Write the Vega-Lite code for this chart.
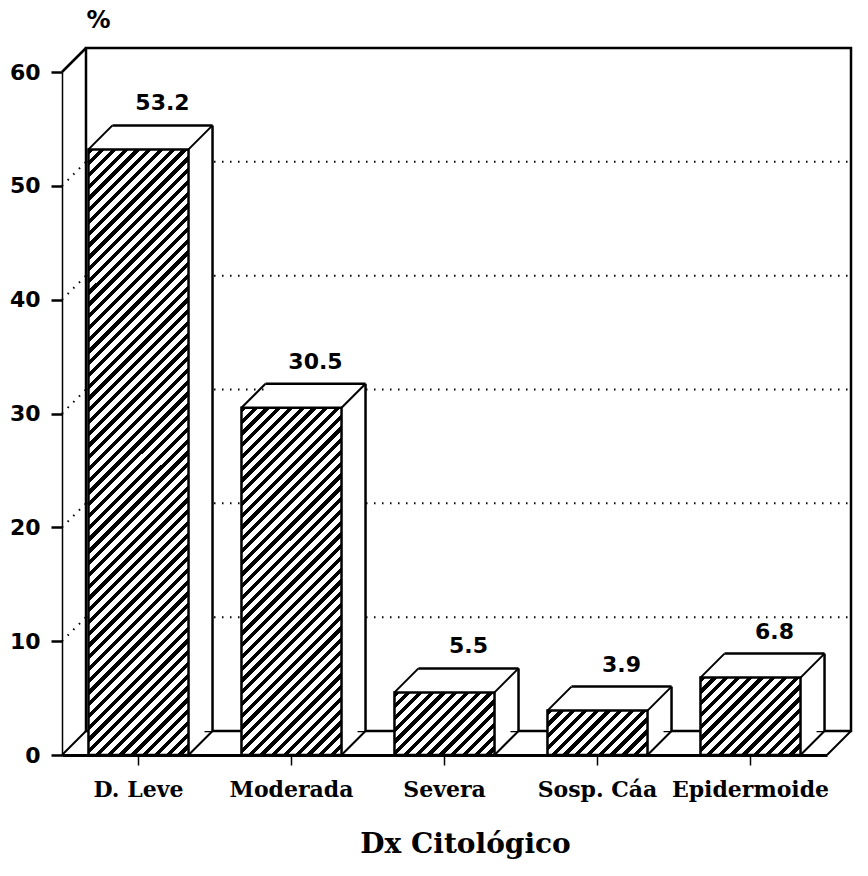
{
"$schema":"https://vega.github.io/schema/vega-lite/v6.json",
"width":765,"height":683,
"autosize":{"type":"none"},
"padding":{"left":62,"top":72,"right":41,"bottom":121},
"config":{"view":{"stroke":null},"font":"DejaVu Sans"},
"params":[{"name":"hatch","value":[
{"offset":0,"color":"#000"},{"offset":0.0075,"color":"#000"},{"offset":0.0075,"color":"#fff"},{"offset":0.0167,"color":"#fff"},
{"offset":0.0167,"color":"#000"},{"offset":0.0242,"color":"#000"},{"offset":0.0242,"color":"#fff"},{"offset":0.0333,"color":"#fff"},
{"offset":0.0333,"color":"#000"},{"offset":0.0408,"color":"#000"},{"offset":0.0408,"color":"#fff"},{"offset":0.05,"color":"#fff"},
{"offset":0.05,"color":"#000"},{"offset":0.0575,"color":"#000"},{"offset":0.0575,"color":"#fff"},{"offset":0.0667,"color":"#fff"},
{"offset":0.0667,"color":"#000"},{"offset":0.0742,"color":"#000"},{"offset":0.0742,"color":"#fff"},{"offset":0.0833,"color":"#fff"},
{"offset":0.0833,"color":"#000"},{"offset":0.0908,"color":"#000"},{"offset":0.0908,"color":"#fff"},{"offset":0.1,"color":"#fff"},
{"offset":0.1,"color":"#000"},{"offset":0.1075,"color":"#000"},{"offset":0.1075,"color":"#fff"},{"offset":0.1167,"color":"#fff"},
{"offset":0.1167,"color":"#000"},{"offset":0.1242,"color":"#000"},{"offset":0.1242,"color":"#fff"},{"offset":0.1333,"color":"#fff"},
{"offset":0.1333,"color":"#000"},{"offset":0.1408,"color":"#000"},{"offset":0.1408,"color":"#fff"},{"offset":0.15,"color":"#fff"},
{"offset":0.15,"color":"#000"},{"offset":0.1575,"color":"#000"},{"offset":0.1575,"color":"#fff"},{"offset":0.1667,"color":"#fff"},
{"offset":0.1667,"color":"#000"},{"offset":0.1742,"color":"#000"},{"offset":0.1742,"color":"#fff"},{"offset":0.1833,"color":"#fff"},
{"offset":0.1833,"color":"#000"},{"offset":0.1908,"color":"#000"},{"offset":0.1908,"color":"#fff"},{"offset":0.2,"color":"#fff"},
{"offset":0.2,"color":"#000"},{"offset":0.2075,"color":"#000"},{"offset":0.2075,"color":"#fff"},{"offset":0.2167,"color":"#fff"},
{"offset":0.2167,"color":"#000"},{"offset":0.2242,"color":"#000"},{"offset":0.2242,"color":"#fff"},{"offset":0.2333,"color":"#fff"},
{"offset":0.2333,"color":"#000"},{"offset":0.2408,"color":"#000"},{"offset":0.2408,"color":"#fff"},{"offset":0.25,"color":"#fff"},
{"offset":0.25,"color":"#000"},{"offset":0.2575,"color":"#000"},{"offset":0.2575,"color":"#fff"},{"offset":0.2667,"color":"#fff"},
{"offset":0.2667,"color":"#000"},{"offset":0.2742,"color":"#000"},{"offset":0.2742,"color":"#fff"},{"offset":0.2833,"color":"#fff"},
{"offset":0.2833,"color":"#000"},{"offset":0.2908,"color":"#000"},{"offset":0.2908,"color":"#fff"},{"offset":0.3,"color":"#fff"},
{"offset":0.3,"color":"#000"},{"offset":0.3075,"color":"#000"},{"offset":0.3075,"color":"#fff"},{"offset":0.3167,"color":"#fff"},
{"offset":0.3167,"color":"#000"},{"offset":0.3242,"color":"#000"},{"offset":0.3242,"color":"#fff"},{"offset":0.3333,"color":"#fff"},
{"offset":0.3333,"color":"#000"},{"offset":0.3408,"color":"#000"},{"offset":0.3408,"color":"#fff"},{"offset":0.35,"color":"#fff"},
{"offset":0.35,"color":"#000"},{"offset":0.3575,"color":"#000"},{"offset":0.3575,"color":"#fff"},{"offset":0.3667,"color":"#fff"},
{"offset":0.3667,"color":"#000"},{"offset":0.3742,"color":"#000"},{"offset":0.3742,"color":"#fff"},{"offset":0.3833,"color":"#fff"},
{"offset":0.3833,"color":"#000"},{"offset":0.3908,"color":"#000"},{"offset":0.3908,"color":"#fff"},{"offset":0.4,"color":"#fff"},
{"offset":0.4,"color":"#000"},{"offset":0.4075,"color":"#000"},{"offset":0.4075,"color":"#fff"},{"offset":0.4167,"color":"#fff"},
{"offset":0.4167,"color":"#000"},{"offset":0.4242,"color":"#000"},{"offset":0.4242,"color":"#fff"},{"offset":0.4333,"color":"#fff"},
{"offset":0.4333,"color":"#000"},{"offset":0.4408,"color":"#000"},{"offset":0.4408,"color":"#fff"},{"offset":0.45,"color":"#fff"},
{"offset":0.45,"color":"#000"},{"offset":0.4575,"color":"#000"},{"offset":0.4575,"color":"#fff"},{"offset":0.4667,"color":"#fff"},
{"offset":0.4667,"color":"#000"},{"offset":0.4742,"color":"#000"},{"offset":0.4742,"color":"#fff"},{"offset":0.4833,"color":"#fff"},
{"offset":0.4833,"color":"#000"},{"offset":0.4908,"color":"#000"},{"offset":0.4908,"color":"#fff"},{"offset":0.5,"color":"#fff"},
{"offset":0.5,"color":"#000"},{"offset":0.5075,"color":"#000"},{"offset":0.5075,"color":"#fff"},{"offset":0.5167,"color":"#fff"},
{"offset":0.5167,"color":"#000"},{"offset":0.5242,"color":"#000"},{"offset":0.5242,"color":"#fff"},{"offset":0.5333,"color":"#fff"},
{"offset":0.5333,"color":"#000"},{"offset":0.5408,"color":"#000"},{"offset":0.5408,"color":"#fff"},{"offset":0.55,"color":"#fff"},
{"offset":0.55,"color":"#000"},{"offset":0.5575,"color":"#000"},{"offset":0.5575,"color":"#fff"},{"offset":0.5667,"color":"#fff"},
{"offset":0.5667,"color":"#000"},{"offset":0.5742,"color":"#000"},{"offset":0.5742,"color":"#fff"},{"offset":0.5833,"color":"#fff"},
{"offset":0.5833,"color":"#000"},{"offset":0.5908,"color":"#000"},{"offset":0.5908,"color":"#fff"},{"offset":0.6,"color":"#fff"},
{"offset":0.6,"color":"#000"},{"offset":0.6075,"color":"#000"},{"offset":0.6075,"color":"#fff"},{"offset":0.6167,"color":"#fff"},
{"offset":0.6167,"color":"#000"},{"offset":0.6242,"color":"#000"},{"offset":0.6242,"color":"#fff"},{"offset":0.6333,"color":"#fff"},
{"offset":0.6333,"color":"#000"},{"offset":0.6408,"color":"#000"},{"offset":0.6408,"color":"#fff"},{"offset":0.65,"color":"#fff"},
{"offset":0.65,"color":"#000"},{"offset":0.6575,"color":"#000"},{"offset":0.6575,"color":"#fff"},{"offset":0.6667,"color":"#fff"},
{"offset":0.6667,"color":"#000"},{"offset":0.6742,"color":"#000"},{"offset":0.6742,"color":"#fff"},{"offset":0.6833,"color":"#fff"},
{"offset":0.6833,"color":"#000"},{"offset":0.6908,"color":"#000"},{"offset":0.6908,"color":"#fff"},{"offset":0.7,"color":"#fff"},
{"offset":0.7,"color":"#000"},{"offset":0.7075,"color":"#000"},{"offset":0.7075,"color":"#fff"},{"offset":0.7167,"color":"#fff"},
{"offset":0.7167,"color":"#000"},{"offset":0.7242,"color":"#000"},{"offset":0.7242,"color":"#fff"},{"offset":0.7333,"color":"#fff"},
{"offset":0.7333,"color":"#000"},{"offset":0.7408,"color":"#000"},{"offset":0.7408,"color":"#fff"},{"offset":0.75,"color":"#fff"},
{"offset":0.75,"color":"#000"},{"offset":0.7575,"color":"#000"},{"offset":0.7575,"color":"#fff"},{"offset":0.7667,"color":"#fff"},
{"offset":0.7667,"color":"#000"},{"offset":0.7742,"color":"#000"},{"offset":0.7742,"color":"#fff"},{"offset":0.7833,"color":"#fff"},
{"offset":0.7833,"color":"#000"},{"offset":0.7908,"color":"#000"},{"offset":0.7908,"color":"#fff"},{"offset":0.8,"color":"#fff"},
{"offset":0.8,"color":"#000"},{"offset":0.8075,"color":"#000"},{"offset":0.8075,"color":"#fff"},{"offset":0.8167,"color":"#fff"},
{"offset":0.8167,"color":"#000"},{"offset":0.8242,"color":"#000"},{"offset":0.8242,"color":"#fff"},{"offset":0.8333,"color":"#fff"},
{"offset":0.8333,"color":"#000"},{"offset":0.8408,"color":"#000"},{"offset":0.8408,"color":"#fff"},{"offset":0.85,"color":"#fff"},
{"offset":0.85,"color":"#000"},{"offset":0.8575,"color":"#000"},{"offset":0.8575,"color":"#fff"},{"offset":0.8667,"color":"#fff"},
{"offset":0.8667,"color":"#000"},{"offset":0.8742,"color":"#000"},{"offset":0.8742,"color":"#fff"},{"offset":0.8833,"color":"#fff"},
{"offset":0.8833,"color":"#000"},{"offset":0.8908,"color":"#000"},{"offset":0.8908,"color":"#fff"},{"offset":0.9,"color":"#fff"},
{"offset":0.9,"color":"#000"},{"offset":0.9075,"color":"#000"},{"offset":0.9075,"color":"#fff"},{"offset":0.9167,"color":"#fff"},
{"offset":0.9167,"color":"#000"},{"offset":0.9242,"color":"#000"},{"offset":0.9242,"color":"#fff"},{"offset":0.9333,"color":"#fff"},
{"offset":0.9333,"color":"#000"},{"offset":0.9408,"color":"#000"},{"offset":0.9408,"color":"#fff"},{"offset":0.95,"color":"#fff"},
{"offset":0.95,"color":"#000"},{"offset":0.9575,"color":"#000"},{"offset":0.9575,"color":"#fff"},{"offset":0.9667,"color":"#fff"},
{"offset":0.9667,"color":"#000"},{"offset":0.9742,"color":"#000"},{"offset":0.9742,"color":"#fff"},{"offset":0.9833,"color":"#fff"},
{"offset":0.9833,"color":"#000"},{"offset":0.9908,"color":"#000"},{"offset":0.9908,"color":"#fff"},{"offset":1,"color":"#fff"}
]}],
"data":{"values":[
{"cat":"D. Leve","v":53.2},
{"cat":"Moderada","v":30.5},
{"cat":"Severa","v":5.5},
{"cat":"Sosp. Cáa","v":3.9},
{"cat":"Epidermoide","v":6.8}
]},
"layer":[
{"mark":{"type":"bar","fill":"#fff","strokeWidth":0,"xOffset":8,"yOffset":-8,"y2Offset":-8},
 "encoding":{
  "x":{"field":"cat","type":"nominal","sort":null,
   "scale":{"domain":["D. Leve","Moderada","Severa","Sosp. Cáa","Epidermoide"],"paddingInner":0.346,"paddingOuter":0.173},
   "axis":{"title":"Dx Citológico","labelAngle":0,"domainColor":"#000","domainWidth":3,"tickColor":"#000","tickWidth":1.5,"tickSize":10,
    "labelFont":"DejaVu Serif","labelFontWeight":"bold","labelFontSize":22,"labelColor":"#000","labelPadding":14,
    "titleFont":"DejaVu Serif","titleFontWeight":"bold","titleFontSize":28,"titleColor":"#000","titlePadding":30,"titleX":403}},
  "y":{"field":"v","type":"quantitative","scale":{"domain":[0,60],"nice":false},
   "axis":{"values":[0,10,20,30,40,50,60],"grid":false,"title":"%","titleAngle":0,"titleX":36,"titleY":-52,"titleAlign":"center","titleBaseline":"middle",
    "titleFont":"DejaVu Sans","titleFontWeight":"bold","titleFontSize":24,"titleColor":"#000",
    "domainColor":"#000","domainWidth":1.5,"tickColor":"#000","tickWidth":2.5,"tickSize":11,
    "labelFont":"DejaVu Sans","labelFontWeight":"bold","labelFontSize":22,"labelColor":"#000","labelPadding":11}}}},
{"data":{"values":[{"g":10},{"g":20},{"g":30},{"g":40},{"g":50}]},
 "mark":{"type":"rule","stroke":"#000","strokeWidth":2,"strokeDash":[1.5,6.5],"xOffset":24,"x2Offset":24,"yOffset":-24},
 "encoding":{"y":{"field":"g","type":"quantitative"},"x":{"value":0},"x2":{"value":"width"}}},
{"data":{"values":[{"g":10},{"g":20},{"g":30},{"g":40},{"g":50}]},
 "mark":{"type":"rule","stroke":"#000","strokeWidth":2,"strokeDash":[1.5,6.5],"x2Offset":24,"y2Offset":-24},
 "encoding":{"x":{"value":0},"x2":{"value":0},"y":{"field":"g","type":"quantitative"},"y2":{"field":"g"}}},
{"data":{"values":[{}]},
 "mark":{"type":"rect","fillOpacity":0,"stroke":"#000","strokeWidth":2.5,"xOffset":24,"x2Offset":24,"yOffset":-24,"y2Offset":-24},
 "encoding":{"x":{"value":0},"x2":{"value":"width"},"y":{"datum":0,"type":"quantitative"},"y2":{"datum":60}}},
{"data":{"values":[{}]},
 "mark":{"type":"rule","stroke":"#000","strokeWidth":2.5,"x2Offset":24,"y2Offset":-24},
 "encoding":{"x":{"value":0},"x2":{"value":0},"y":{"datum":60,"type":"quantitative"},"y2":{"datum":60}}},
{"data":{"values":[{}]},
 "mark":{"type":"rule","stroke":"#000","strokeWidth":2,"x2Offset":24,"y2Offset":-24},
 "encoding":{"x":{"value":0},"x2":{"value":0},"y":{"datum":0,"type":"quantitative"},"y2":{"datum":0}}},
{"data":{"values":[{}]},
 "mark":{"type":"rule","stroke":"#000","strokeWidth":2,"x2Offset":24,"y2Offset":-24},
 "encoding":{"x":{"value":"width"},"x2":{"value":"width"},"y":{"datum":0,"type":"quantitative"},"y2":{"datum":0}}},
{"mark":{"type":"bar","fill":"#fff","strokeWidth":0,"xOffset":8,"yOffset":-8,"y2Offset":-8},
 "encoding":{"x":{"field":"cat","type":"nominal","sort":null},"y":{"field":"v","type":"quantitative"}}},
{"mark":{"type":"bar","fill":"#fff","strokeWidth":0,"xOffset":16,"yOffset":-16,"y2Offset":-16},
 "encoding":{"x":{"field":"cat","type":"nominal","sort":null},"y":{"field":"v","type":"quantitative"}}},
{"mark":{"type":"bar","fill":"#fff","strokeWidth":0,"xOffset":24,"yOffset":-24,"y2Offset":-24},
 "encoding":{"x":{"field":"cat","type":"nominal","sort":null},"y":{"field":"v","type":"quantitative"}}},
{"mark":{"type":"rule","stroke":"#000","strokeWidth":2.5,"xOffset":24,"x2Offset":24,"yOffset":-24},
 "encoding":{"x":{"field":"cat","type":"nominal","sort":null,"bandPosition":0},"x2":{"field":"cat","bandPosition":1},"y":{"field":"v","type":"quantitative"}}},
{"mark":{"type":"rule","stroke":"#000","strokeWidth":2.5,"xOffset":24,"yOffset":-24,"y2Offset":-24},
 "encoding":{"x":{"field":"cat","type":"nominal","sort":null,"bandPosition":1},"y":{"field":"v","type":"quantitative"},"y2":{"datum":0}}},
{"mark":{"type":"rule","stroke":"#000","strokeWidth":2,"x2Offset":24,"y2Offset":-24},
 "encoding":{"x":{"field":"cat","type":"nominal","sort":null,"bandPosition":0},"x2":{"field":"cat","bandPosition":0},"y":{"field":"v","type":"quantitative"},"y2":{"field":"v"}}},
{"mark":{"type":"rule","stroke":"#000","strokeWidth":2,"x2Offset":24,"y2Offset":-24},
 "encoding":{"x":{"field":"cat","type":"nominal","sort":null,"bandPosition":1},"x2":{"field":"cat","bandPosition":1},"y":{"field":"v","type":"quantitative"},"y2":{"field":"v"}}},
{"mark":{"type":"rule","stroke":"#000","strokeWidth":2,"x2Offset":24,"y2Offset":-24},
 "encoding":{"x":{"field":"cat","type":"nominal","sort":null,"bandPosition":1},"x2":{"field":"cat","bandPosition":1},"y":{"datum":0,"type":"quantitative"},"y2":{"datum":0}}},
{"transform":[{"filter":"datum.cat === 'D. Leve'"}],
 "mark":{"type":"bar","stroke":"#000","strokeWidth":2.5,"fill":{"expr":"{'gradient':'linear','x1':0,'y1':0,'x2':0.18729,'y2':1.13421,'stops':hatch}"}},
 "encoding":{"x":{"field":"cat","type":"nominal","sort":null},"y":{"field":"v","type":"quantitative"}}},
{"transform":[{"filter":"datum.cat === 'Moderada'"}],
 "mark":{"type":"bar","stroke":"#000","strokeWidth":2.5,"fill":{"expr":"{'gradient':'linear','x1':0,'y1':0,'x2':0.54052,'y2':1.87663,'stops':hatch}"}},
 "encoding":{"x":{"field":"cat","type":"nominal","sort":null},"y":{"field":"v","type":"quantitative"}}},
{"transform":[{"filter":"datum.cat === 'Severa'"}],
 "mark":{"type":"bar","stroke":"#000","strokeWidth":2.5,"fill":{"expr":"{'gradient':'linear','x1':0,'y1':0,'x2':5.069,'y2':3.1737,'stops':hatch}"}},
 "encoding":{"x":{"field":"cat","type":"nominal","sort":null},"y":{"field":"v","type":"quantitative"}}},
{"transform":[{"filter":"datum.cat === 'Sosp. Cáa'"}],
 "mark":{"type":"bar","stroke":"#000","strokeWidth":2.5,"fill":{"expr":"{'gradient':'linear','x1':0,'y1':0,'x2':5.894,'y2':2.61694,'stops':hatch}"}},
 "encoding":{"x":{"field":"cat","type":"nominal","sort":null},"y":{"field":"v","type":"quantitative"}}},
{"transform":[{"filter":"datum.cat === 'Epidermoide'"}],
 "mark":{"type":"bar","stroke":"#000","strokeWidth":2.5,"fill":{"expr":"{'gradient':'linear','x1':0,'y1':0,'x2':4.4121,'y2':3.41541,'stops':hatch}"}},
 "encoding":{"x":{"field":"cat","type":"nominal","sort":null},"y":{"field":"v","type":"quantitative"}}},
{"mark":{"type":"text","font":"DejaVu Sans","fontWeight":"bold","fontSize":22,"color":"#000","xOffset":24,"yOffset":-39,"baseline":"alphabetic"},
 "encoding":{"x":{"field":"cat","type":"nominal","sort":null},"y":{"field":"v","type":"quantitative"},"text":{"field":"v","type":"quantitative","format":".1f"}}}
]
}
